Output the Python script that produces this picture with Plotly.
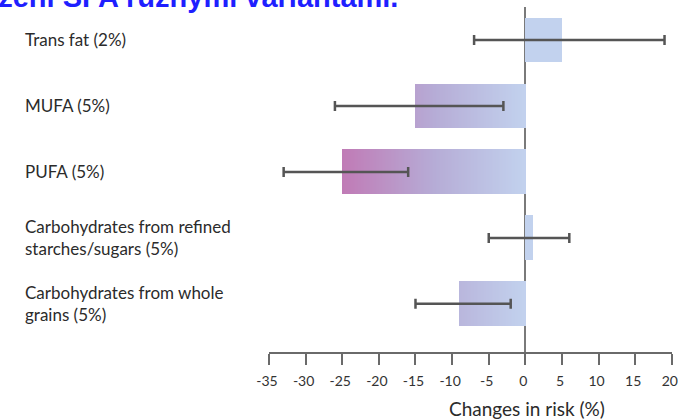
import numpy as np
import plotly.graph_objects as go
from plotly.colors import sample_colorscale

# Risk change when replacing SFA with alternative nutrients
categories = [
    "Trans fat (2%)",
    "MUFA (5%)",
    "PUFA (5%)",
    "Carbohydrates from refined<br>starches/sugars (5%)",
    "Carbohydrates from whole<br>grains (5%)",
]
change = [5, -15, -25, 1, -9]
ci_low = [-7, -26, -33, -5, -15]
ci_high = [19, -3, -16, 6, -2]
tick_vals = [-35, -30, -25, -20, -15, -10, -5, 0, 5, 10, 15, 20]

# horizontal gradient: pink at -25, light blue at 0
grad_scale = [[0.0, "#c07bb6"], [0.5, "#b6acd6"], [1.0, "#c2d2ee"]]
grad_min, grad_max = -25.0, 0.0


def grad_color(v):
    t = (min(max(v, grad_min), grad_max) - grad_min) / (grad_max - grad_min)
    return sample_colorscale(grad_scale, [t])[0]


# each bar is a stack of nested spans from 0, longest first, so the
# visible colour at any x comes from the span that ends just past it
seg_y, seg_len, seg_col = [], [], []
for i, v in enumerate(change):
    if v >= 0:
        seg_y.append(i)
        seg_len.append(v)
        seg_col.append(grad_color(0))
        continue
    n = int(np.ceil(abs(v) / 0.2))
    for e in np.linspace(v, 0, n, endpoint=False):
        seg_y.append(i)
        seg_len.append(e)
        seg_col.append(grad_color(e))

fig = go.Figure()
fig.add_trace(go.Bar(
    orientation="h",
    y=seg_y,
    x=seg_len,
    width=0.68,
    marker=dict(color=seg_col, line=dict(width=0)),
    hoverinfo="skip",
    showlegend=False,
))

fig.add_trace(go.Scatter(
    x=change,
    y=list(range(len(categories))),
    mode="markers",
    marker=dict(size=1, opacity=0),
    error_x=dict(
        type="data",
        symmetric=False,
        array=[h - c for h, c in zip(ci_high, change)],
        arrayminus=[c - l for c, l in zip(change, ci_low)],
        color="#555555",
        thickness=2.5,
        width=5,
    ),
    showlegend=False,
    hoverinfo="skip",
))

label_font = dict(family="Lato, sans-serif", size=17, color="#2b2b2b")
annotations = []
for i, name in enumerate(categories):
    annotations.append(dict(
        text=name, xref="paper", yref="y", x=-0.6104, y=i,
        xanchor="left", yanchor="middle", align="left",
        showarrow=False, font=label_font,
    ))

annotations.append(dict(
    text="Changes in risk (%)", xref="x", yref="paper", x=0.2, y=-0.165,
    xanchor="center", yanchor="middle", showarrow=False,
    font=dict(family="Lato, sans-serif", size=19, color="#2b2b2b"),
))

annotations.append(dict(
    text="<b>Nahrazení SFA různými variantami.</b>",
    xref="paper", yref="paper", x=0.325, y=1.0,
    xanchor="right", yanchor="bottom", showarrow=False, yshift=-8,
    font=dict(family="Liberation Sans, Arial, sans-serif", size=29, color="#1f1fff"),
))

fig.update_layout(
    width=678, height=420,
    margin=dict(l=269, r=6, t=7, b=68, autoexpand=False),
    paper_bgcolor="white", plot_bgcolor="white",
    barmode="overlay",
    bargap=0,
    annotations=annotations,
    xaxis=dict(
        range=[-35, 20.02],
        tickvals=tick_vals,
        ticktext=[str(t) for t in tick_vals],
        showgrid=False,
        zeroline=True, zerolinecolor="#7a7a7a", zerolinewidth=2,
        showline=True, linecolor="#6a6a6a", linewidth=1.5,
        ticks="outside", ticklen=11, tickwidth=1.5, tickcolor="#6a6a6a",
        tickfont=dict(family="Lato, sans-serif", size=14, color="#333333"),
        ticklabelstandoff=4,
        ticklabelshift=-2,
        ticklabeloverflow="allow",
        automargin=False,
        fixedrange=True,
    ),
    yaxis=dict(
        range=[4.73, -0.5],
        showgrid=False, zeroline=False, showline=False,
        showticklabels=False, ticks="",
        automargin=False,
        fixedrange=True,
    ),
)

fig.write_html("out.html")
